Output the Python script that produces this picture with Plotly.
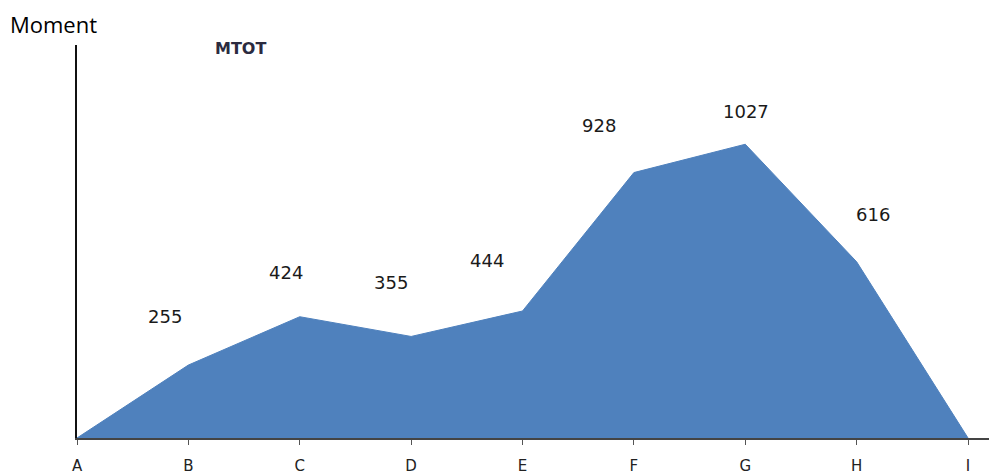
import plotly.graph_objects as go

# Moment diagram data (MTOT)
points = ["A", "B", "C", "D", "E", "F", "G", "H", "I"]
mtot = [0, 255, 424, 355, 444, 928, 1027, 616, 0]

# label offsets in px (as placed in the original chart)
label_dx = [0, -23, -14, -20, -36, -35, 1, 16, 0]
label_dy = [0, 49, 44, 54, 51, 47, 33, 47, 0]

xs = list(range(len(points)))

fig = go.Figure()
fig.add_trace(go.Scatter(
    x=xs, y=mtot, mode="lines", fill="tozeroy",
    line=dict(color="#4F81BD", width=1), fillcolor="#4F81BD",
    hoverinfo="x+y", showlegend=False,
))

for x, v, dx, dy in zip(xs, mtot, label_dx, label_dy):
    if v == 0:
        continue
    fig.add_annotation(x=x, y=v, text=str(v), showarrow=False,
                       xshift=dx, yshift=dy,
                       font=dict(family="DejaVu Sans", size=18, color="#1a1a1a"))

fig.add_annotation(xref="paper", yref="paper", x=0.148, y=1.0,
                   xanchor="left", yanchor="middle", yshift=-3,
                   text="<b>MTOT</b>", showarrow=False,
                   font=dict(family="DejaVu Sans", size=16, color="#2b2b40"))

# page body adds an 8px margin, so the figure is a bit smaller than the window
fig.update_layout(
    width=989, height=467,
    margin=dict(l=69, r=0, t=37, b=37),
    plot_bgcolor="white", paper_bgcolor="white",
    title=dict(text="Moment", x=0.002, xanchor="left", y=0.962, yanchor="middle",
               font=dict(family="Open Sans", size=22, color="black")),
    xaxis=dict(tickmode="array", tickvals=xs, ticktext=points,
               range=[0, 8.26], showgrid=False, zeroline=False,
               showline=True, linecolor="#444", linewidth=2,
               ticks="outside", ticklen=5, tickcolor="#555",
               ticklabelstandoff=8,
               tickfont=dict(family="DejaVu Sans", size=15, color="#222")),
    yaxis=dict(range=[0, 1374], showgrid=False, zeroline=False,
               showline=True, linecolor="#111", linewidth=2,
               showticklabels=False, ticks=""),
)

fig.write_html("out.html")
